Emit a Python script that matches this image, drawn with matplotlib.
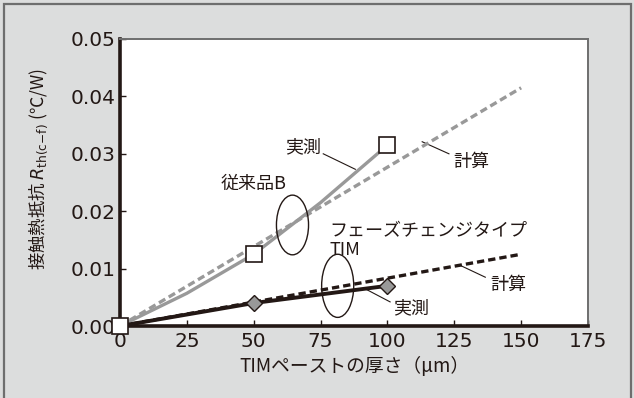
import numpy as np
import matplotlib.pyplot as plt
from matplotlib.patches import Ellipse, Rectangle

plt.rcParams['font.family'] = ['Noto Sans CJK JP', 'DejaVu Sans']
plt.rcParams['mathtext.fontset'] = 'custom'
plt.rcParams['mathtext.it'] = 'DejaVu Sans:italic'
plt.rcParams['mathtext.rm'] = 'DejaVu Sans'

# data
thick_meas = [0, 50, 100]
conv_meas = [0.0, 0.0125, 0.0315]          # 従来品B 実測 (markers)
conv_curve_x = [0, 25, 50, 75, 100]
conv_curve_y = [0.0, 0.0057, 0.0125, 0.0215, 0.0315]
conv_calc_x = [0, 150]
conv_calc_y = [0.0, 0.0415]                # 従来品B 計算
tim_meas = [0.0, 0.004, 0.007]             # フェーズチェンジ 実測
tim_calc_x = [0, 150]
tim_calc_y = [0.0, 0.0125]                 # フェーズチェンジ 計算
xticks = [0, 25, 50, 75, 100, 125, 150, 175]
yticks = [0.0, 0.01, 0.02, 0.03, 0.04, 0.05]

ink = '#231815'
gray = '#999999'
bg = '#dcdddd'

fig = plt.figure(figsize=(6.34, 3.98), dpi=100, facecolor=bg)
fig.patches.append(Rectangle((4 / 634, -0.05), 627 / 634, 1 - 4 / 398 + 0.05,
                             transform=fig.transFigure, fill=False,
                             edgecolor='#6e6e6e', lw=1.6))
ax = fig.add_axes([120 / 634, 1 - 326 / 398, 468 / 634, 287 / 398])
ax.set_facecolor('white')

ax.plot(conv_calc_x, conv_calc_y, color=gray, lw=2.4, ls=(0, (2.2, 1.2)), zorder=3)
ax.plot(conv_curve_x, conv_curve_y, color=gray, lw=2.4, zorder=4)
ax.plot(tim_calc_x, tim_calc_y, color=ink, lw=2.4, ls=(0, (2.2, 1.2)), zorder=3)
ax.plot(thick_meas, tim_meas, color=ink, lw=2.8, zorder=4)
ax.plot(thick_meas[1:], tim_meas[1:], ls='none', marker='D', ms=8,
        mfc='#999999', mec=ink, mew=1, zorder=6)
ax.plot(thick_meas, conv_meas, ls='none', marker='s', ms=11,
        mfc='white', mec=ink, mew=1.2, zorder=7, clip_on=False)

ax.add_patch(Ellipse((64.5, 0.0176), 12, 0.0104, fill=False, ec=ink, lw=1, zorder=8))
ax.add_patch(Ellipse((81.4, 0.0070), 12, 0.011, fill=False, ec=ink, lw=1, zorder=8))

fs = 13
ax.text(68.5, 0.0312, '実測', fontsize=fs, color=ink, ha='center', va='center')
ax.plot([76, 88], [0.0300, 0.0273], color=ink, lw=0.8)
ax.text(131.3, 0.0286, '計算', fontsize=fs, color=ink, ha='center', va='center')
ax.plot([113, 123], [0.0321, 0.0300], color=ink, lw=0.8)
ax.text(50.1, 0.0247, '従来品B', fontsize=fs, color=ink, ha='center', va='center')
ax.text(78.4, 0.0166, 'フェーズチェンジタイプ', fontsize=fs, color=ink,
        ha='left', va='center')
ax.text(78.4, 0.0132, 'TIM', fontsize=fs, color=ink, ha='left', va='center')
ax.text(145.3, 0.0071, '計算', fontsize=fs, color=ink, ha='center', va='center')
ax.plot([127.5, 136.6], [0.0105, 0.0085], color=ink, lw=0.8)
ax.text(109, 0.0031, '実測', fontsize=fs, color=ink, ha='center', va='center')
ax.plot([92, 101], [0.0064, 0.0042], color=ink, lw=0.8)

ax.set_xlim(0, 175)
ax.set_ylim(0, 0.05)
ax.set_xticks(xticks)
ax.set_yticks(yticks)
ax.set_yticklabels(['%.2f' % v for v in yticks])
ax.tick_params(direction='in', length=4, width=1, color=ink, labelsize=14.5,
               labelcolor=ink, pad=3)
ax.tick_params(axis='x', pad=4)
for lab in ax.get_xticklabels() + ax.get_yticklabels():
    lab.set_fontfamily('DejaVu Sans')
for s in ['left', 'bottom']:
    ax.spines[s].set_linewidth(2.6)
    ax.spines[s].set_color(ink)
for s in ['top', 'right']:
    ax.spines[s].set_linewidth(1.4)
    ax.spines[s].set_color('#6e6e6e')

ax.set_xlabel('TIMペーストの厚さ（µm）', fontsize=13.5, color=ink, labelpad=4)
ax.set_ylabel('接触熱抵抗 $\\mathit{R}_{\\mathrm{th(c{-}f)}}$ (℃/W)', fontsize=12.5,
              color=ink)
ax.yaxis.set_label_coords(-0.15, 0.547)

fig.savefig('out.png', dpi=100, facecolor=bg)
